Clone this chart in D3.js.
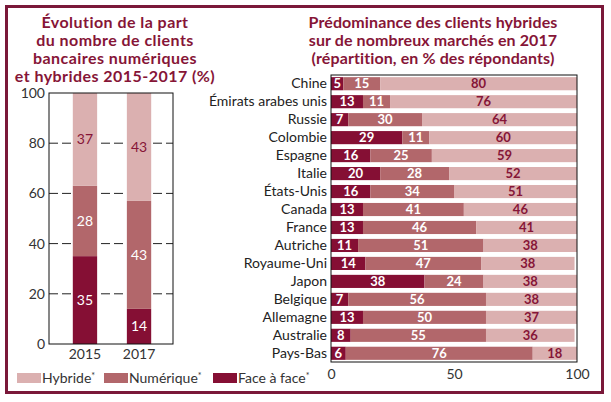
<!DOCTYPE html>
<html>
<head>
<meta charset="utf-8">
<script src="https://cdn.jsdelivr.net/npm/d3@7"></script>
<style>
  body { margin: 0; background: #fff; }
  svg { display: block; font-family: Lato, sans-serif; }
</style>
</head>
<body>
<svg id="chart" width="611" height="402"></svg>
<script>
//////////////////////////////////////////////////////////////
///////////////////////// Data ///////////////////////////////
//////////////////////////////////////////////////////////////

var keys = ["face", "numerique", "hybride"];
var legendLabels = ["Hybride", "Numérique", "Face à face"];

// left chart: 2015 vs 2017
var years = ["2015", "2017"];
var yearFace = [35, 14];
var yearNum = [28, 43];
var yearHyb = [37, 43];
var yTicks = [0, 20, 40, 60, 80, 100];

// right chart: countries 2017
var countries = ["Chine", "Émirats arabes unis", "Russie", "Colombie", "Espagne", "Italie",
  "États-Unis", "Canada", "France", "Autriche", "Royaume-Uni", "Japon", "Belgique",
  "Allemagne", "Australie", "Pays-Bas"];
var countryFace = [5, 13, 7, 29, 16, 20, 16, 13, 13, 11, 14, 38, 7, 13, 8, 6];
var countryNum = [15, 11, 30, 11, 25, 28, 34, 41, 46, 51, 47, 24, 56, 50, 55, 76];
var countryHyb = [80, 76, 64, 60, 59, 52, 51, 46, 41, 38, 38, 38, 38, 37, 36, 18];
var xTicks = [0, 50, 100];

//////////////////////////////////////////////////////////////
/////////////////////// Settings /////////////////////////////
//////////////////////////////////////////////////////////////

var colors = {face: "#850f34", numerique: "#b2676b", hybride: "#dbb0b0"};
var titleColor = "#861537";
var svg = d3.select("#chart");

// outer frame
svg.append("rect")
  .attr("x", 6.5).attr("y", 6.5)
  .attr("width", 596).attr("height", 386)
  .attr("fill", "none")
  .attr("stroke", "#7a1839")
  .attr("stroke-width", 3);

//////////////////////////////////////////////////////////////
//////////////////////// Titles //////////////////////////////
//////////////////////////////////////////////////////////////

function title(lines, cx, spacing) {
  svg.append("text")
    .attr("text-anchor", "middle")
    .attr("fill", titleColor)
    .style("font-size", "16px")
    .style("font-weight", "bold")
    .style("letter-spacing", spacing + "px")
    .selectAll("tspan")
    .data(lines).enter()
    .append("tspan")
      .attr("x", cx)
      .attr("y", function(d, i) { return 28 + i * 18; })
      .text(function(d) { return d; });
}
title(["Évolution de la part", "du nombre de clients", "bancaires numériques", "et hybrides 2015-2017 (%)"], 115, 0.45);
title(["Prédominance des clients hybrides", "sur de nombreux marchés en 2017", "(répartition, en % des répondants)"], 433, 0.1);

//////////////////////////////////////////////////////////////
////////////////////// Left chart ////////////////////////////
//////////////////////////////////////////////////////////////

var left = {x0: 49, x1: 173, y0: 93, y1: 344};
var yScale = d3.scaleLinear().domain([0, 100]).range([left.y1, left.y0]);
var xYear = d3.scaleBand().domain(years).range([62, 162]).paddingInner(0.55).paddingOuter(0.2);

var yearData = years.map(function(y, i) {
  return {year: y, face: yearFace[i], numerique: yearNum[i], hybride: yearHyb[i]};
});
var yearSeries = d3.stack().keys(keys)(yearData);

var gL = svg.append("g");

// dashed grid
gL.selectAll(".grid")
  .data(yTicks.filter(function(d) { return d > 0 && d < 100; })).enter()
  .append("line")
    .attr("x1", left.x0).attr("x2", left.x1)
    .attr("y1", function(d) { return yScale(d); })
    .attr("y2", function(d) { return yScale(d); })
    .attr("stroke", "#222")
    .attr("stroke-width", 1)
    .attr("stroke-dasharray", "9,4");

gL.selectAll(".layer")
  .data(yearSeries).enter()
  .append("g")
    .attr("fill", function(d) { return colors[d.key]; })
  .selectAll("rect")
  .data(function(d) { return d; }).enter()
  .append("rect")
    .attr("x", function(d) { return xYear(d.data.year); })
    .attr("width", xYear.bandwidth())
    .attr("y", function(d) { return yScale(d[1]); })
    .attr("height", function(d) { return yScale(d[0]) - yScale(d[1]); });

yearSeries.forEach(function(s) {
  gL.selectAll(null)
    .data(s).enter()
    .append("text")
      .attr("x", function(d) { return xYear(d.data.year) + xYear.bandwidth() / 2; })
      .attr("y", function(d) { return yScale((d[0] + d[1]) / 2); })
      .attr("dy", "0.35em")
      .attr("text-anchor", "middle")
      .attr("fill", s.key === "hybride" ? titleColor : "#fff")
      .style("font-size", "14px")
      .text(function(d) { return d.data[s.key]; });
});

gL.append("rect")
  .attr("x", left.x0).attr("y", left.y0)
  .attr("width", left.x1 - left.x0).attr("height", left.y1 - left.y0)
  .attr("fill", "none").attr("stroke", "#111").attr("stroke-width", 1);

var yAxis = d3.axisLeft(yScale).tickValues(yTicks).tickSize(0).tickPadding(4);
gL.append("g")
  .attr("transform", "translate(" + left.x0 + ",0)")
  .call(yAxis)
  .call(function(g) { g.select(".domain").remove(); })
  .selectAll("text")
    .style("font-size", "14px")
    .style("font-family", "Lato, sans-serif")
    .attr("fill", "#333");

var xAxisL = d3.axisBottom(xYear).tickSize(0).tickPadding(5);
gL.append("g")
  .attr("transform", "translate(0," + left.y1 + ")")
  .call(xAxisL)
  .call(function(g) { g.select(".domain").remove(); })
  .selectAll("text")
    .style("font-size", "14px")
    .style("font-family", "Lato, sans-serif")
    .attr("fill", "#333");

//////////////////////////////////////////////////////////////
///////////////////// Right chart ////////////////////////////
//////////////////////////////////////////////////////////////

var right = {x0: 331, x1: 577, y0: 75, y1: 362};
var xScale = d3.scaleLinear().domain([0, 100]).range([right.x0, right.x1]);
var yBand = d3.scaleBand().domain(countries).range([right.y0, right.y1]).paddingInner(0.27).paddingOuter(0.12);

var countryData = countries.map(function(c, i) {
  return {country: c, face: countryFace[i], numerique: countryNum[i], hybride: countryHyb[i]};
});
var countrySeries = d3.stack().keys(keys)(countryData);

var gR = svg.append("g");

gR.selectAll(".layer")
  .data(countrySeries).enter()
  .append("g")
    .attr("fill", function(d) { return colors[d.key]; })
  .selectAll("rect")
  .data(function(d) { return d; }).enter()
  .append("rect")
    .attr("x", function(d) { return xScale(d[0]); })
    .attr("width", function(d) { return xScale(Math.min(100, d[1])) - xScale(d[0]); })
    .attr("y", function(d) { return yBand(d.data.country); })
    .attr("height", yBand.bandwidth());

countrySeries.forEach(function(s) {
  gR.selectAll(null)
    .data(s).enter()
    .append("text")
      .attr("x", function(d) { return xScale((d[0] + Math.min(100, d[1])) / 2); })
      .attr("y", function(d) { return yBand(d.data.country) + yBand.bandwidth() / 2; })
      .attr("dy", "0.36em")
      .attr("text-anchor", "middle")
      .attr("fill", s.key === "hybride" ? titleColor : "#fff")
      .style("font-size", "13px")
      .style("font-weight", "bold")
      .text(function(d) { return d.data[s.key]; });
});

gR.append("rect")
  .attr("x", right.x0).attr("y", right.y0)
  .attr("width", right.x1 - right.x0).attr("height", right.y1 - right.y0)
  .attr("fill", "none").attr("stroke", "#111").attr("stroke-width", 1);

var yAxisR = d3.axisLeft(yBand).tickSize(0).tickPadding(4);
gR.append("g")
  .attr("transform", "translate(" + right.x0 + ",0)")
  .call(yAxisR)
  .call(function(g) { g.select(".domain").remove(); })
  .selectAll("text")
    .style("font-size", "14px")
    .style("font-family", "Lato, sans-serif")
    .attr("fill", "#222");

var xAxisR = d3.axisBottom(xScale).tickValues(xTicks).tickSize(0).tickPadding(7);
gR.append("g")
  .attr("transform", "translate(0," + right.y1 + ")")
  .call(xAxisR)
  .call(function(g) { g.select(".domain").remove(); })
  .selectAll("text")
    .style("font-size", "14px")
    .style("font-family", "Lato, sans-serif")
    .attr("fill", "#333");

//////////////////////////////////////////////////////////////
//////////////////////// Legend //////////////////////////////
//////////////////////////////////////////////////////////////

var legendKeys = ["hybride", "numerique", "face"];
var legendX = [17, 104, 213];

var legend = svg.append("g").selectAll("g")
  .data(legendKeys).enter()
  .append("g")
    .attr("transform", function(d, i) { return "translate(" + legendX[i] + ",373)"; });

legend.append("rect")
  .attr("width", 24).attr("height", 10)
  .attr("fill", function(d) { return colors[d]; });

var lt = legend.append("text")
  .attr("x", 25).attr("y", 10)
  .attr("fill", "#333")
  .style("font-size", "14px");
lt.append("tspan").text(function(d, i) { return legendLabels[i]; });
lt.append("tspan")
  .attr("dy", -4)
  .style("font-size", "9px")
  .text("*");
</script>
</body>
</html>
